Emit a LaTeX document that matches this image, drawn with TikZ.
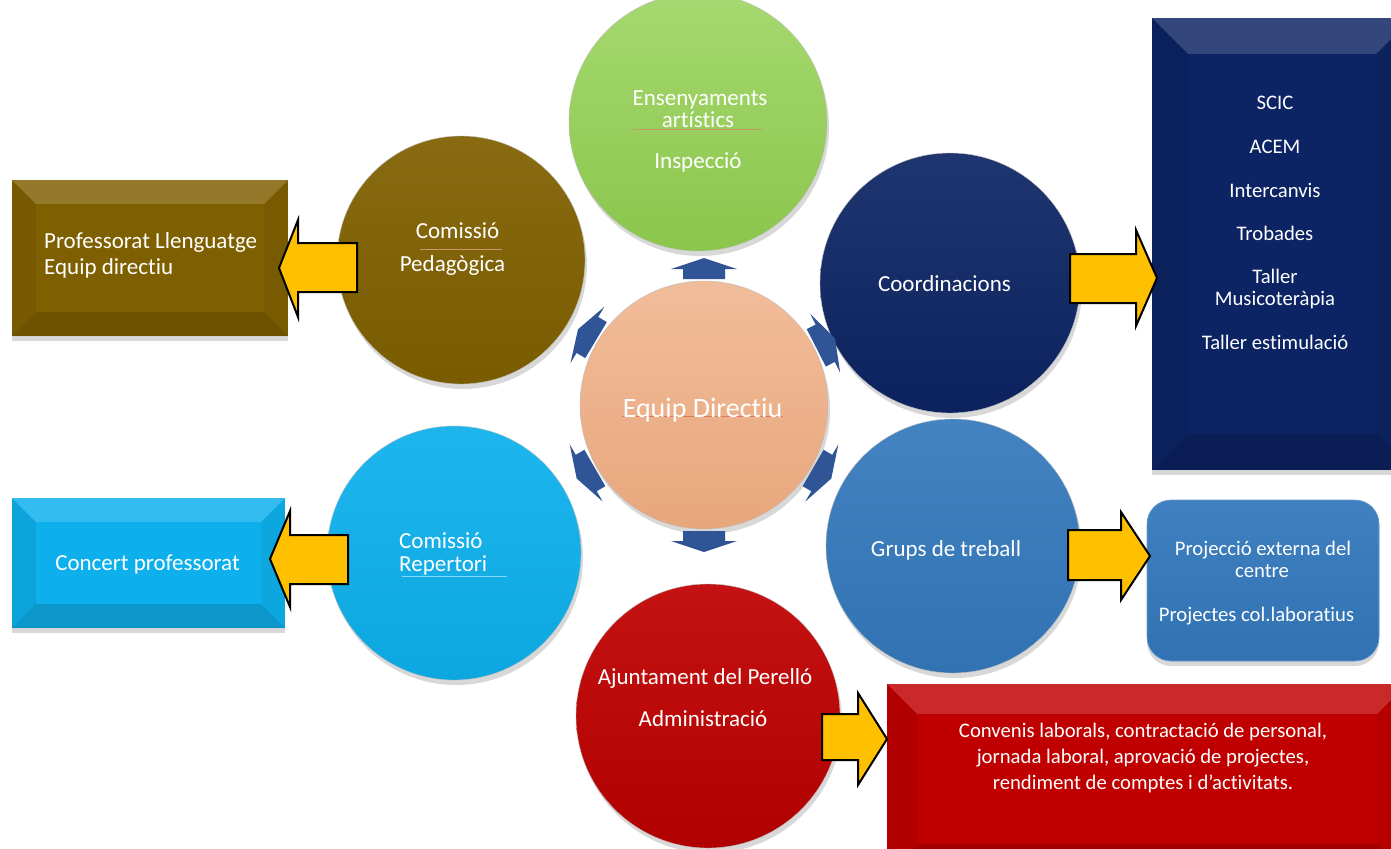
\documentclass[tikz,border=0pt]{standalone}
\usepackage{fontspec}
\setmainfont{Carlito}[Ligatures=NoCommon]
\usetikzlibrary{shadows,calc}
\definecolor{cgreen}{HTML}{92D050}
\definecolor{cbrown}{HTML}{7F6000}
\definecolor{cnavy}{HTML}{0C2463}
\definecolor{ccyan}{HTML}{0DB0EC}
\definecolor{csteel}{HTML}{3378BC}
\definecolor{cred}{HTML}{C00000}
\definecolor{cpeach}{HTML}{EEAC80}
\definecolor{cyellow}{HTML}{FFC000}
\definecolor{carrow}{HTML}{2F5597}
\definecolor{ctan}{HTML}{C8966A}
\newcommand{\mybevel}[2]{%
  \fill[white,opacity=.16] (#1.north west) -- (#1.north east) -- ($(#1.north east)+(-#2,#2)$) -- ($(#1.north west)+(#2,#2)$) -- cycle;
  \fill[black,opacity=.07] (#1.north west) -- (#1.south west) -- ($(#1.south west)+(#2,-#2)$) -- ($(#1.north west)+(#2,#2)$) -- cycle;
  \fill[black,opacity=.05] (#1.north east) -- (#1.south east) -- ($(#1.south east)+(-#2,-#2)$) -- ($(#1.north east)+(-#2,#2)$) -- cycle;
  \fill[black,opacity=.14] (#1.south west) -- (#1.south east) -- ($(#1.south east)+(-#2,-#2)$) -- ($(#1.south west)+(#2,-#2)$) -- cycle;
}
\begin{document}
\begin{tikzpicture}[x=1bp,y=-1bp,
  bubble/.style={circle, minimum size=#1, inner sep=0pt, draw=black!25, line width=0.4bp,
    drop shadow={shadow xshift=2bp, shadow yshift=-5bp, opacity=.3}},
  box/.style={rectangle, inner sep=0pt, drop shadow={shadow xshift=0bp, shadow yshift=-5bp, opacity=.3}},
  lbl/.style={text=white, inner sep=0pt, anchor=base, font=\fontsize{23bp}{24bp}\selectfont},
  sml/.style={text=white, inner sep=0pt, anchor=base, font=\fontsize{20.7bp}{22bp}\selectfont},
  yarrow/.style={fill=cyellow, draw=black, line width=2bp, line join=miter},
  barrow/.style={fill=carrow},
  sepline/.style={line width=0.8bp, draw=#1}
]
\useasboundingbox (0,0) rectangle (1391,848);
\clip (0,0) rectangle (1391,848);
\fill[white] (0,0) rectangle (1391,848);

% ---------- rectangles ----------
\node[box, fill=cbrown, minimum width=276bp, minimum height=156bp] (rbrown) at (150,258) {};
\mybevel{rbrown}{24}
\node[box, fill=cnavy, minimum width=260bp, minimum height=452bp] (rnavy) at (1282,244) {};
\mybevel{rnavy}{36}
\node[box, fill=ccyan, minimum width=273bp, minimum height=130bp] (rcyan) at (148.5,563) {};
\mybevel{rcyan}{24}
\node[box, fill=csteel, rounded corners=24bp, minimum width=232bp, minimum height=161bp,
  top color=csteel!94!white, bottom color=csteel!95!black, draw=csteel!70!white, line width=0.6bp] (rsteel) at (1263,580.5) {};
\node[box, fill=cred, minimum width=520bp, minimum height=190bp] (rred) at (1147,779) {};
\mybevel{rred}{30}

% ---------- circles ----------
\node[bubble=258bp, top color=cgreen!82!white, middle color=cgreen, bottom color=cgreen!95!black] (cgr) at (698,122) {};
\node[bubble=248bp, top color=cbrown!93!white, middle color=cbrown, bottom color=cbrown!95!black] (cbr) at (461,260) {};
\node[bubble=260bp, top color=cnavy!92!white, middle color=cnavy, bottom color=cnavy!95!black] (cnv) at (950,283) {};
\node[bubble=248bp, top color=cpeach!80!white, middle color=cpeach, bottom color=cpeach!97!black] (cpe) at (704,405) {};
\node[bubble=254bp, top color=ccyan!93!white, middle color=ccyan, bottom color=ccyan!95!black] (ccy) at (454,553) {};
\node[bubble=254bp, top color=csteel!92!white, middle color=csteel, bottom color=csteel!95!black] (cst) at (953,546) {};
\node[bubble=264bp, top color=cred!93!white, middle color=cred, bottom color=cred!92!black] (crd) at (708,716) {};

% ---------- small blue arrows around the centre ----------
\foreach \ang in {90,-90,149,27,210,-30}{
  \fill[barrow, shift={(cpe.center)}, rotate=\ang]
    (126,-21) -- (136,-21) -- (136,-33) -- (147,0) -- (136,33) -- (136,21) -- (126,21) -- cycle;
}

% ---------- yellow block arrows ----------
\draw[yarrow] (357,243) -- (298,243) -- (298,220) -- (279,268) -- (298,317) -- (298,292) -- (357,292) -- cycle;
\draw[yarrow] (1070,254) -- (1136,254) -- (1136,230) -- (1157,278) -- (1136,326) -- (1136,303) -- (1070,303) -- cycle;
\draw[yarrow] (348,535) -- (290,535) -- (290,511) -- (270,559) -- (290,607) -- (290,584) -- (348,584) -- cycle;
\draw[yarrow] (1068,530) -- (1121,530) -- (1121,512) -- (1150,556) -- (1121,600) -- (1121,580) -- (1068,580) -- cycle;
\draw[yarrow] (822,714) -- (858,714) -- (858,693) -- (887,739) -- (858,785) -- (858,760) -- (822,760) -- cycle;

% ---------- circle texts ----------
\node[lbl] (t1) at (700,105) {Ensenyaments};
\node[lbl] (t2) at (698,127) {artístics};
\draw[sepline=ctan] (633,129.5) -- (762,129.5);
\node[lbl] (t3) at (698,168) {Inspecció};

\node[lbl] (t4) at (457.5,238) {Comissió};
\draw[sepline=ctan] (420,249) -- (502,249);
\node[lbl] (t5) at (452.5,271) {Pedagògica};

\node[lbl] (t6) at (944.5,291) {Coordinacions};

\draw[line width=0.6bp, draw=cred!30!cpeach] (622,416) -- (783,416);
\node[text=white, inner sep=0pt, anchor=base, font=\fontsize{28bp}{30bp}\selectfont] (t7) at (702.5,417) {Equip Directiu};

\node[lbl, anchor=base west] (t8) at (399,548) {Comissió};
\node[lbl, anchor=base west] (t9) at (399,571) {Repertori};
\draw[sepline=ccyan!50!white] (402,576) -- (507,576);

\node[lbl] (t10) at (946,556) {Grups de treball};

\node[lbl] (t11) at (705,684) {Ajuntament del Perelló};
\node[lbl] (t12) at (703,726) {Administració};

% ---------- box texts ----------
\node[lbl, anchor=base west] (b1) at (44,248) {Professorat Llenguatge};
\node[lbl, anchor=base west] (b2) at (44,274) {Equip directiu};

\node[sml] (n1) at (1275,109) {SCIC};
\node[sml] (n2) at (1275,153) {ACEM};
\node[sml] (n3) at (1275,197) {Intercanvis};
\node[sml] (n4) at (1275,240) {Trobades};
\node[sml] (n5) at (1275,283) {Taller};
\node[sml] (n6) at (1275,305) {Musicoteràpia};
\node[sml] (n7) at (1275,349) {Taller estimulació};

\node[lbl] (c1) at (147.5,570) {Concert professorat};

\node[sml] (s1) at (1263,555) {Projecció externa del};
\node[sml] (s2) at (1262,577) {centre};
\node[sml] (s3) at (1256.5,621) {Projectes col.laboratius};

\node[sml] (r1) at (1143,737) {Convenis laborals, contractació de personal,};
\node[sml] (r2) at (1143,763) {jornada laboral, aprovació de projectes,};
\node[sml] (r3) at (1143,789) {rendiment de comptes i d’activitats.};
\end{tikzpicture}
\end{document}
